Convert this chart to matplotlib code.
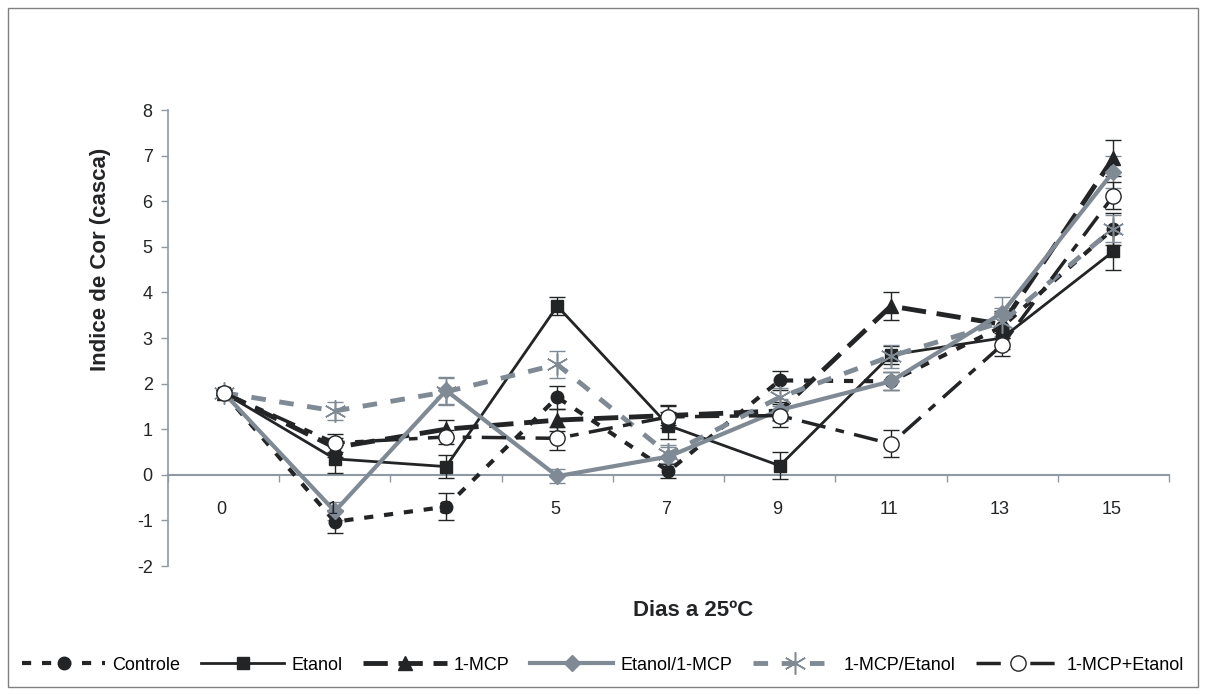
import matplotlib.pyplot as plt
from matplotlib.patches import Rectangle

plt.rcParams['font.family'] = ['Liberation Sans', 'DejaVu Sans']
plt.rcParams['axes.unicode_minus'] = False

# dias de armazenamento
dias = ['0', '1', '3', '5', '7', '9', '11', '13', '15']

# indice de cor (casca) por tratamento
controle = [1.8, -1.03, -0.7, 1.7, 0.08, 2.07, 2.05, 3.25, 5.4]
etanol = [1.8, 0.35, 0.18, 3.7, 1.08, 0.2, 2.63, 3.0, 4.9]
mcp = [1.8, 0.6, 1.0, 1.2, 1.3, 1.4, 3.7, 3.3, 6.95]
etanol_mcp = [1.8, -0.8, 1.85, -0.03, 0.4, 1.42, 2.05, 3.55, 6.65]
mcp_etanol = [1.8, 1.4, 1.82, 2.42, 0.45, 1.7, 2.6, 3.35, 5.4]
mcp_mais_etanol = [1.8, 0.7, 0.83, 0.8, 1.27, 1.3, 0.68, 2.85, 6.12]

# desvios (barras de erro)
err_controle = [0.05, 0.25, 0.3, 0.25, 0.15, 0.2, 0.2, 0.25, 0.35]
err_etanol = [0.05, 0.3, 0.25, 0.2, 0.3, 0.3, 0.2, 0.25, 0.4]
err_mcp = [0.05, 0.2, 0.2, 0.25, 0.2, 0.2, 0.3, 0.3, 0.4]
err_etanol_mcp = [0.05, 0.2, 0.3, 0.15, 0.2, 0.25, 0.2, 0.35, 0.35]
err_mcp_etanol = [0.05, 0.2, 0.3, 0.3, 0.2, 0.2, 0.25, 0.3, 0.3]
err_mcp_mais_etanol = [0.05, 0.2, 0.15, 0.25, 0.25, 0.25, 0.3, 0.25, 0.3]

preto = '#222426'
cinza = '#7f8a94'
eixo = '#8f99a3'

fig = plt.figure(figsize=(12.06, 6.95), dpi=100)
ax = fig.add_axes([0.1393, 0.1856, 0.830, 0.6561])
x = list(range(len(dias)))

series = [
    (controle, err_controle, 'Controle', dict(color=preto, lw=3, dashes=(2.2, 2.6),
                                              marker='o', ms=9, mfc=preto, mec=preto)),
    (etanol, err_etanol, 'Etanol', dict(color=preto, lw=2, ls='-',
                                        marker='s', ms=9, mfc=preto, mec=preto)),
    (mcp, err_mcp, '1-MCP', dict(color=preto, lw=3.5, dashes=(5, 2.2),
                                 marker='^', ms=10, mfc=preto, mec=preto)),
    (etanol_mcp, err_etanol_mcp, 'Etanol/1-MCP', dict(color=cinza, lw=3, ls='-',
                                                      marker='D', ms=8, mfc=cinza, mec=cinza)),
    (mcp_etanol, err_mcp_etanol, '1-MCP/Etanol', dict(color=cinza, lw=3.5, dashes=(3, 2.8),
                                                      marker=(6, 2, 0), ms=16, mfc=cinza, mec=cinza, mew=1.1)),
    (mcp_mais_etanol, err_mcp_mais_etanol, '1-MCP+Etanol', dict(color=preto, lw=2.5, dashes=(7, 3, 2.5, 3),
                                                                marker='o', ms=11, mfc='white', mec=preto, mew=1)),
]

for vals, err, nome, estilo in series:
    cor = estilo['color']
    ax.errorbar(x, vals, yerr=err, fmt='none', ecolor=cor, elinewidth=1, capsize=6, capthick=1, zorder=2.0)
    ax.plot(x, vals, label=nome, zorder=2.2, **estilo)

ax.set_xlim(-0.5, len(dias) - 0.5)
ax.set_ylim(-2, 8)
ax.set_yticks(range(-2, 9))
ax.set_xticks(x)
ax.set_xticklabels([])
ax.set_xticks([i - 0.5 for i in range(len(dias) + 1)], minor=True)
ax.tick_params(axis='x', which='major', length=0)
ax.tick_params(axis='x', which='minor', length=5, width=1, color=eixo, direction='out')
ax.tick_params(axis='y', length=5, width=1, color=eixo, labelsize=13, labelcolor=preto, pad=6)

# rotulos dos dias por cima das linhas
for i, d in enumerate(dias):
    ax.text(i - 0.02, -0.77, d, ha='center', va='center', fontsize=13, color=preto, zorder=5)

ax.spines['top'].set_visible(False)
ax.spines['right'].set_visible(False)
ax.spines['bottom'].set_position(('data', 0))
ax.spines['bottom'].set_color(eixo)
ax.spines['bottom'].set_linewidth(1.5)
ax.spines['bottom'].set_zorder(1.5)
ax.spines['left'].set_color(eixo)
ax.spines['left'].set_linewidth(1.2)

fig.text(0.5745, 0.122, 'Dias a 25ºC', ha='center', va='center', fontsize=16, fontweight='bold', color=preto)
fig.text(0.0835, 0.627, 'Indice de Cor (casca)', ha='center', va='center', rotation=90,
         fontsize=16, fontweight='bold', color=preto)

fig.legend(loc='center', bbox_to_anchor=(0.5, 0.043), ncol=6, frameon=False, fontsize=13,
           handlelength=4.6, columnspacing=1.15, handletextpad=0.4, numpoints=1)

fig.patches.append(Rectangle((0.007, 0.012), 0.986, 0.976, transform=fig.transFigure,
                             fill=False, edgecolor='#808080', lw=1))

fig.savefig('out.png', dpi=100)
